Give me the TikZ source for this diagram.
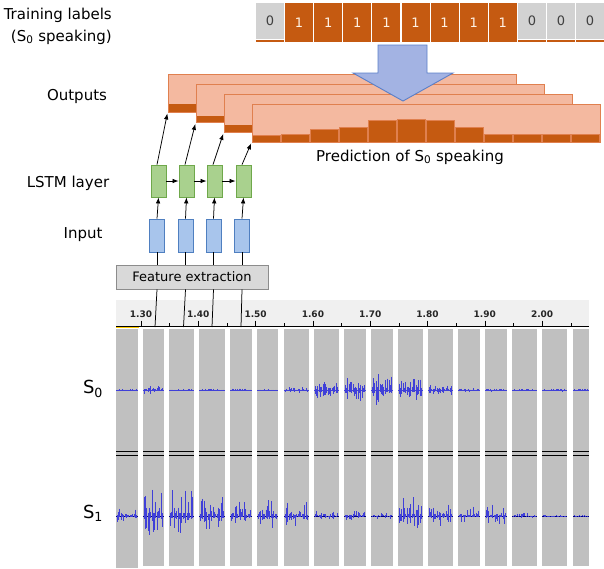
\documentclass[tikz,border=0pt]{standalone}
\usepackage{fontspec}
\setmainfont{DejaVu Sans}
\usetikzlibrary{calc}
\usetikzlibrary{arrows.meta}

\definecolor{lblorange}{HTML}{C55A11}
\definecolor{lblgray}{HTML}{D2D2D2}
\definecolor{outfill}{HTML}{F4B9A0}
\definecolor{outdraw}{HTML}{E0804F}
\definecolor{arrowfill}{HTML}{A3B3E3}
\definecolor{arrowdraw}{HTML}{5A7FC8}
\definecolor{lstmfill}{HTML}{A9D18E}
\definecolor{lstmdraw}{HTML}{6FA84B}
\definecolor{infill}{HTML}{A8C5EC}
\definecolor{indraw}{HTML}{4F7FC0}
\definecolor{featfill}{HTML}{D9D9D9}
\definecolor{featdraw}{HTML}{8C8C8C}
\definecolor{wavebg}{HTML}{C0C0C0}
\definecolor{rulerbg}{HTML}{F0F0F0}
\definecolor{waveblue}{HTML}{4040D8}

\begin{document}
\begin{tikzpicture}[x=1pt,y=-1pt,
  >={Latex[length=6pt,width=4.5pt]},
  onebox/.style={fill=lblorange,text=white!90!orange,minimum width=28pt,minimum height=39pt,inner sep=0pt,font=\fontsize{13}{15}\selectfont},
  zerobox/.style={fill=lblgray,text=black!75,minimum width=28pt,minimum height=36pt,inner sep=0pt,font=\fontsize{13}{15}\selectfont},
  outbox/.style={fill=outfill,draw=outdraw,line width=0.9pt,minimum width=348pt,minimum height=38pt,inner sep=0pt},
  lstmbox/.style={fill=lstmfill,draw=lstmdraw,line width=0.8pt,minimum width=15pt,minimum height=32pt,inner sep=0pt},
  inbox/.style={fill=infill,draw=indraw,line width=0.8pt,minimum width=15pt,minimum height=33pt,inner sep=0pt},
  featbox/.style={fill=featfill,draw=featdraw,line width=0.8pt,minimum width=152pt,minimum height=24pt,inner sep=0pt,font=\fontsize{13}{15}\selectfont},
  sidelabel/.style={font=\fontsize{15}{18}\selectfont,inner sep=0pt},
  ticklabel/.style={font=\fontsize{9}{10}\selectfont\bfseries,text=black!85,inner sep=0pt},
  link/.style={line width=0.75pt},
  wave/.style={waveblue,line width=0.55pt}
]
\useasboundingbox (0,0) rectangle (604,568);
\pgfmathsetseed{42}

%training labels
\node[sidelabel,anchor=east] (trainA) at (112,15) {Training labels};
\node[sidelabel,anchor=east] (trainB) at (112,37) {(S\textsubscript{0} speaking)};
\foreach \v [count=\i from 0] in {0,1,1,1,1,1,1,1,1,0,0,0}{
  \pgfmathsetmacro\cx{270+\i*29.1}
  \ifnum\v=1
    \node[onebox] (lab\i) at (\cx,22.5) {\v};
  \else
    \node[zerobox] (lab\i) at (\cx,21) {\v};
    \draw[lblorange,line width=2pt] ($(lab\i.south west)+(0,2)$) -- ($(lab\i.south east)+(0,2)$);
  \fi
}

%outputs
\node[outbox] (out1) at (342,93) {};
\fill[lblorange] ($(out1.south west)+(1,-0.5)$) rectangle ($(out1.south east)+(-1,-8)$);
\node[outbox] (out2) at (370,103.5) {};
\fill[lblorange] ($(out2.south west)+(1,-0.5)$) rectangle ($(out2.south east)+(-1,-7)$);
\node[outbox] (out3) at (398,113.5) {};
\fill[lblorange] ($(out3.south west)+(1,-0.5)$) rectangle ($(out3.south east)+(-1,-8)$);
\node[outbox] (out4) at (426,123) {};
\foreach \top [count=\i from 0] in {7.5,8.5,13.5,15.5,22.5,23.5,22.5,15.5,8,8,8,8}{
  \filldraw[fill=lblorange,draw=outdraw,line width=0.5pt]
    ($(out4.south west)+(\i*29+0.5,-0.5)$) rectangle ($(out4.south west)+(\i*29+29,-\top)$);
}
\node[sidelabel] (pred) at (410,157) {Prediction of S\textsubscript{0} speaking};

%big arrow
\filldraw[fill=arrowfill,draw=arrowdraw,line width=0.9pt]
  (378,45) -- (427,45) -- (427,73) -- (453,73) -- (403,101) -- (353,73) -- (378,73) -- cycle;

%network
\node[sidelabel] (outputs) at (77,96) {Outputs};
\node[sidelabel] (lstm) at (68,183) {LSTM layer};
\node[sidelabel] (input) at (83,235) {Input};

\node[lstmbox] (l1) at (158.5,181) {};
\node[lstmbox] (l2) at (186.5,181) {};
\node[lstmbox] (l3) at (214.5,181) {};
\node[lstmbox] (l4) at (243.5,181) {};
\node[inbox] (i1) at (157,235.5) {};
\node[inbox] (i2) at (185.5,235.5) {};
\node[inbox] (i3) at (213.5,235.5) {};
\node[inbox] (i4) at (242,235.5) {};
\node[featbox] (feat) at (192,277) {Feature extraction};

\foreach \i in {1,2,3,4}{
  \draw[link,->] (i\i.north) -- (l\i.south);
  \draw[link] (i\i.south) -- (i\i.south |- feat.north);
  \draw[link,->,shorten >=1pt] ($(l\i.north)+(-1.5,0)$) -- (out\i.south west);
}
\draw[link,->] (l1) -- (l2);
\draw[link,->] (l2) -- (l3);
\draw[link,->] (l3) -- (l4);

%time ruler
\fill[rulerbg] (116,300) rectangle (589,326);
\draw[black,line width=0.9pt] (116,326) -- (589,326);
\draw[orange!40!yellow,line width=1.2pt] (116,327.5) -- (139,327.5);
\foreach \t [count=\k from 0] in {1.30,1.40,1.50,1.60,1.70,1.80,1.90,2.00}{
  \node[ticklabel] (tick\k) at (141+\k*57.3,314.5) {\t};
  \draw (141+\k*57.3,320.5) -- (141+\k*57.3,326);
  \draw (169.6+\k*57.3,323) -- (169.6+\k*57.3,326);
}
\foreach \i/\xx in {1/155,2/183.5,3/212,4/241}{
  \coordinate (tap\i) at (\xx,327);
  \draw[link] (i\i.south |- feat.south) -- (tap\i);
}

%waveforms
\node[sidelabel,font=\fontsize{18}{20}\selectfont] (szero) at (93,389) {S\textsubscript{0}};
\node[sidelabel,font=\fontsize{18}{20}\selectfont] (sone) at (93,513) {S\textsubscript{1}};
\foreach \xa/\xb/\ampa/\ampb in {116/138/1/10, 143/164/4/30, 169/194/1/27, 199/225/1/21,
    230/252/1.5/15, 257/278/1/18, 284/309/3/15, 314/339/8/5, 344/366/12/6, 371/393/16/4,
    398/423/13/20, 428/453/5/15, 458/480/2/10, 485/507/1.5/12, 512/537/1/3, 542/567/1.5/1, 573/589/1/1}{
  \fill[wavebg] (\xa,329) rectangle (\xb,566);
  \draw[black,line width=0.9pt] (\xa,451) -- (\xb,451) (\xa,455) -- (\xb,455);
  \draw[waveblue,line width=0.8pt] (\xa,390) -- (\xb,390);
  \draw[black!50!blue,line width=0.8pt] (\xa,516) -- (\xb,516);
  \pgfmathsetmacro\xs{\xa+1}
  \pgfmathsetmacro\xt{\xa+2.3}
  \pgfmathsetmacro\xe{\xb-1}
  \foreach \x in {\xs,\xt,...,\xe}{
    \pgfmathsetmacro\ra{rnd}\pgfmathsetmacro\rb{rnd}
    \pgfmathsetmacro\hu{\ampa*(0.15+0.85*\ra*\ra)}
    \pgfmathsetmacro\hd{\ampa*(0.15+0.85*\rb*\rb)}
    \draw[wave] (\x,390-\hu) -- (\x,390+\hd);
    \pgfmathsetmacro\ra{rnd}\pgfmathsetmacro\rb{rnd}
    \pgfmathsetmacro\hu{\ampb*(0.1+0.9*\ra*\ra*\ra)}
    \pgfmathsetmacro\hd{\ampb*(0.1+0.9*\rb*\rb*\rb)*0.7}
    \draw[wave] (\x,516-\hu) -- (\x,516+\hd);
  }
}
\fill[wavebg] (116,566) rectangle (138,568);
\end{tikzpicture}
\end{document}
